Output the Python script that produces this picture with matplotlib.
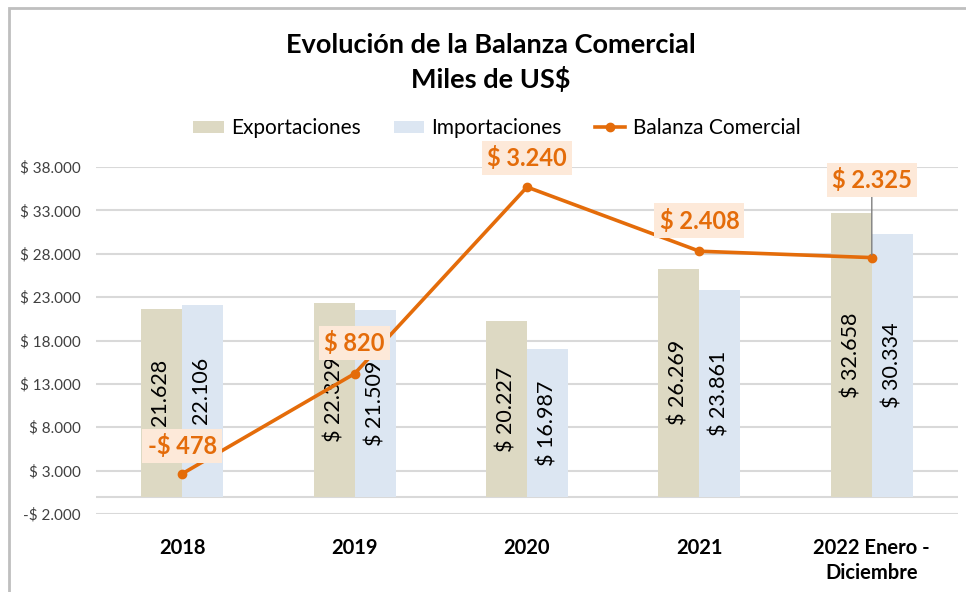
import matplotlib
matplotlib.use("Agg")
import matplotlib.pyplot as plt
from matplotlib.patches import Rectangle

plt.rcParams['font.family'] = ['Lato', 'DejaVu Sans']

categories = ["2018", "2019", "2020", "2021", "2022 Enero -\nDiciembre"]
exportaciones = [21628, 22329, 20227, 26269, 32658]
importaciones = [22106, 21509, 16987, 23861, 30334]
balanza = [-478, 820, 3240, 2408, 2325]
yticks = [-2000, 3000, 8000, 13000, 18000, 23000, 28000, 33000, 38000]

C_EXP = "#DDD9C3"
C_IMP = "#DCE6F2"
C_LINE = "#E46C0A"
C_BOX = "#FDE9D9"


def fmt(v):
    s = f"{abs(v):,}".replace(",", ".")
    return ("-$ " if v < 0 else "$ ") + s


fig = plt.figure(figsize=(9.66, 5.92), dpi=100)
W, H = 966, 592
ax = fig.add_axes([96 / W, 1 - 514 / H, (958 - 96) / W, (514 - 167) / H])

x = list(range(len(categories)))
bw = 0.238
xe = [i - bw / 2 for i in x]
xi = [i + bw / 2 for i in x]
ax.bar(xe, exportaciones, width=bw, color=C_EXP, zorder=2, label="Exportaciones")
ax.bar(xi, importaciones, width=bw, color=C_IMP, zorder=2, label="Importaciones")

for xs, vals in ((xe, exportaciones), (xi, importaciones)):
    for xx, v in zip(xs, vals):
        ax.text(xx, v / 2, fmt(v), rotation=90, ha="center", va="center",
                fontsize=15.5, color="black", zorder=3)

ax.set_xlim(-0.5, len(categories) - 0.5)
ax.set_ylim(-2000, 38000)
ax.set_yticks(yticks)
ax.set_yticklabels([fmt(v) for v in yticks], fontsize=11, color="#404040")
ax.set_xticks(x)
ax.set_xticklabels(categories, fontsize=14.5, fontweight="bold", color="black",
                   linespacing=1.35)
ax.tick_params(axis="x", length=0, pad=17)
ax.tick_params(axis="y", length=0, pad=11)
for s in ax.spines.values():
    s.set_visible(False)
ax.grid(axis="y", color="#D9D9D9", lw=1.5, zorder=0)
ax.axhline(0, color="#D9D9D9", lw=1.5, zorder=1)

ax2 = ax.twinx()
ax2.set_ylim(-1000, 3500)
ax2.axis("off")
ln, = ax2.plot(x, balanza, color=C_LINE, lw=2.6, marker="o", markersize=6,
               zorder=4, label="Balanza Comercial")

offsets = [(0, 20), (0, 22), (0, 21), (0, 22), (0, 56)]
for i, (xx, v) in enumerate(zip(x, balanza)):
    kw = {}
    if i == len(x) - 1:
        kw["arrowprops"] = dict(arrowstyle="-", color="#7F7F7F", lw=1,
                                shrinkA=0, shrinkB=2)
    ax2.annotate(fmt(v), (xx, v), xytext=offsets[i], textcoords="offset points",
                 ha="center", va="center", fontsize=17, fontweight="bold",
                 color=C_LINE, zorder=6,
                 bbox=dict(boxstyle="square,pad=0.22", fc=C_BOX, ec="none"),
                 **kw)

h1, l1 = ax.get_legend_handles_labels()
fig.legend(h1 + [ln], l1 + ["Balanza Comercial"], loc="center",
           bbox_to_anchor=(497 / W, 1 - 128 / H), ncol=3, frameon=False,
           fontsize=15, handlelength=1.45, handletextpad=0.35,
           columnspacing=1.6, handleheight=0.5)

fig.text(491 / W, 1 - 45 / H, "Evolución de la Balanza Comercial", ha="center",
         va="center", fontsize=19.5, fontweight="bold", color="black")
fig.text(491 / W, 1 - 79 / H, "Miles de US$", ha="center",
         va="center", fontsize=19.5, fontweight="bold", color="black")

fig.patches.append(Rectangle((8.5 / W, -0.1), 2, 1.1 - 7.5 / H, transform=fig.transFigure,
                             fill=False, ec="#BFBFBF", lw=2))

fig.savefig("out.png", dpi=100, facecolor="white")
